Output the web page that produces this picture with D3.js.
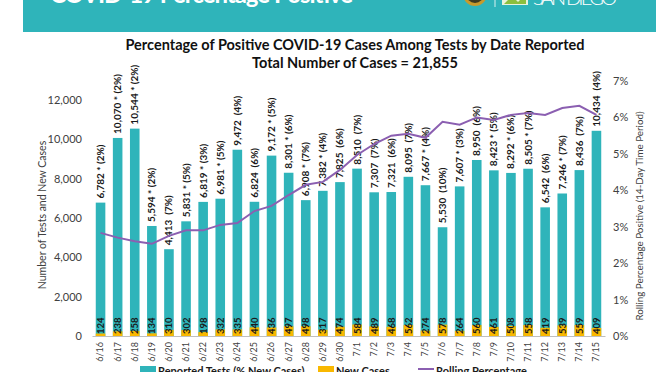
<!DOCTYPE html>
<html>
<head>
<meta charset="utf-8">
<script src="https://cdn.jsdelivr.net/npm/d3@7"></script>
<style>
	body { margin: 0; background: #fff; }
	svg { display: block; }
	text { font-family: Lato, "Open Sans", sans-serif; }
</style>
</head>
<body>
<svg id="chart" width="672" height="372"></svg>
<script>
// Data
const dates = ["6/16", "6/17", "6/18", "6/19", "6/20", "6/21", "6/22", "6/23", "6/24", "6/25",
	"6/26", "6/27", "6/28", "6/29", "6/30", "7/1", "7/2", "7/3", "7/4", "7/5",
	"7/6", "7/7", "7/8", "7/9", "7/10", "7/11", "7/12", "7/13", "7/14", "7/15"];
const reportedTests = [6782, 10070, 10544, 5594, 4413, 5831, 6819, 6981, 9472, 6824,
	9172, 8301, 6908, 7382, 7825, 8510, 7307, 7321, 8095, 7667,
	5530, 7607, 8950, 8423, 8292, 8505, 6542, 7246, 8436, 10434];
const newCases = [124, 238, 258, 134, 310, 302, 198, 332, 335, 440,
	436, 497, 498, 317, 474, 584, 489, 468, 562, 274,
	578, 264, 560, 461, 508, 558, 419, 539, 559, 409];
const pctNewCases = [2, 2, 2, 2, 7, 5, 3, 5, 4, 6,
	5, 6, 7, 4, 6, 7, 7, 6, 7, 4,
	10, 3, 6, 5, 6, 7, 6, 7, 7, 4];
const starred = [1, 1, 1, 1, 0, 1, 1, 1, 0, 0,
	1, 1, 1, 1, 0, 0, 0, 0, 0, 1,
	0, 1, 0, 1, 1, 1, 0, 1, 0, 0];
const rollingPct = [2.83, 2.7, 2.6, 2.53, 2.75, 2.9, 2.9, 3.05, 3.1, 3.43,
	3.57, 3.87, 4.15, 4.23, 4.56, 4.97, 5.27, 5.5, 5.55, 5.44,
	5.88, 5.8, 6.0, 5.93, 6.07, 6.12, 6.07, 6.26, 6.32, 6.07];
const leftTicks = [0, 2000, 4000, 6000, 8000, 10000, 12000];
const rightTicks = [0, 1, 2, 3, 4, 5, 6, 7];

const teal = "#2fb4ba";
const gold = "#f9b800";
const purple = "#8b5fb1";

const svg = d3.select("#chart");

// Banner (top of it is cut off in the original too)
let banner = svg.append("g").attr("class", "banner");
banner.append("rect").attr("x", 23).attr("y", 0).attr("width", 633).attr("height", 32).attr("fill", teal);
banner.append("text").attr("x", 50).attr("y", 3).attr("fill", "#fff").attr("font-weight", "bold")
	.attr("font-size", 24).attr("textLength", 303).attr("font-family", "'Open Sans', sans-serif")
	.text("COVID-19 Percentage Positive");
banner.append("circle").attr("cx", 475).attr("cy", -6).attr("r", 12).attr("fill", "#c79a2c");
banner.append("circle").attr("cx", 475).attr("cy", -6).attr("r", 9).attr("fill", "#3d3a20");
banner.append("line").attr("x1", 495).attr("x2", 495).attr("y1", 0).attr("y2", 7).attr("stroke", "#d8f0f0").attr("stroke-width", 1);
banner.append("rect").attr("x", 502).attr("y", -8).attr("width", 26).attr("height", 13).attr("fill", "#e9f3dc");
banner.append("path").attr("d", "M504,4 L512,-4 L518,2 L526,-6 L526,4 Z").attr("fill", "#8cbf3f");
banner.append("text").attr("x", 533).attr("y", 5).attr("fill", "#fff").attr("font-size", 20)
	.attr("textLength", 84).attr("font-weight", 300).text("SAN DIEGO");

// Titles
svg.append("text").attr("x", 355).attr("y", 50).attr("text-anchor", "middle")
	.attr("font-weight", "bold").attr("font-size", 14.5).attr("fill", "#111")
	.text("Percentage of Positive COVID-19 Cases Among Tests by Date Reported");
svg.append("text").attr("x", 355).attr("y", 68).attr("text-anchor", "middle")
	.attr("font-weight", "bold").attr("font-size", 14.5).attr("fill", "#111")
	.text("Total Number of Cases = 21,855");

// Scales
let xScale = d3.scaleBand().domain(dates).range([92, 605]).paddingInner(0.44).paddingOuter(0.22);
let yScale = d3.scaleLinear().domain([0, 12000]).range([336, 100]);
let rScale = d3.scaleLinear().domain([0, 7]).range([336, 81]);

// Bars
let chart = svg.append("g").attr("class", "chart");
chart.selectAll(".testBar").data(reportedTests).enter().append("rect")
	.attr("class", "testBar")
	.attr("x", function(d, i) { return xScale(dates[i]); })
	.attr("width", xScale.bandwidth())
	.attr("y", function(d) { return yScale(d); })
	.attr("height", function(d) { return yScale(0) - yScale(d); })
	.attr("fill", teal);

chart.selectAll(".caseBar").data(newCases).enter().append("rect")
	.attr("class", "caseBar")
	.attr("x", function(d, i) { return xScale(dates[i]); })
	.attr("width", xScale.bandwidth())
	.attr("y", function(d) { return yScale(d); })
	.attr("height", function(d) { return yScale(0) - yScale(d); })
	.attr("fill", gold);

// Bar value labels
const fmt = d3.format(",");
chart.selectAll(".testLabel").data(reportedTests).enter().append("text")
	.attr("class", "testLabel")
	.attr("transform", function(d, i) {
		let cx = xScale(dates[i]) + xScale.bandwidth() / 2;
		return "translate(" + (cx + 3.5) + "," + (yScale(d) - 4) + ") rotate(-90)";
	})
	.attr("font-size", 10).attr("font-weight", "bold").attr("fill", "#1a1a1a")
	.attr("xml:space", "preserve")
	.text(function(d, i) { return fmt(d) + (starred[i] ? " * " : "  ") + "(" + pctNewCases[i] + "%)"; });

chart.selectAll(".caseLabel").data(newCases).enter().append("text")
	.attr("class", "caseLabel")
	.attr("transform", function(d, i) {
		let cx = xScale(dates[i]) + xScale.bandwidth() / 2;
		return "translate(" + (cx + 3.5) + "," + 334 + ") rotate(-90)";
	})
	.attr("font-size", 9.5).attr("font-weight", "bold").attr("fill", "#1a1a1a")
	.text(function(d) { return d; });

// Rolling percentage line
let line = d3.line()
	.x(function(d, i) { return xScale(dates[i]) + xScale.bandwidth() / 2; })
	.y(function(d) { return rScale(d); });
chart.append("path").datum(rollingPct).attr("d", line)
	.attr("fill", "none").attr("stroke", purple).attr("stroke-width", 2);

// Axes
let xAxis = d3.axisBottom(xScale).tickSize(0).tickPadding(0);
let gx = svg.append("g").attr("transform", "translate(0,336)").call(xAxis);
gx.select(".domain").attr("stroke", "#bfbfbf").attr("stroke-width", 1);
gx.selectAll("text")
	.attr("transform", "rotate(-90)")
	.attr("x", -6).attr("y", 0).attr("dy", "0.32em")
	.attr("text-anchor", "end")
	.attr("font-size", 9).attr("fill", "#404040")
	.attr("font-family", "Lato, sans-serif");

let yAxis = d3.axisLeft(yScale).tickValues(leftTicks).tickSize(0).tickPadding(0).tickFormat(d3.format(","));
let gy = svg.append("g").attr("transform", "translate(82,0)").call(yAxis);
gy.select(".domain").remove();
gy.selectAll("text").attr("font-size", 11).attr("fill", "#404040").attr("font-family", "Lato, sans-serif");

let rAxis = d3.axisRight(rScale).tickValues(rightTicks).tickSize(0).tickPadding(0).tickFormat(function(d) { return d + "%"; });
let gr = svg.append("g").attr("transform", "translate(613,0)").call(rAxis);
gr.select(".domain").remove();
gr.selectAll("text").attr("font-size", 11).attr("fill", "#404040").attr("font-family", "Lato, sans-serif");

// Axis titles
svg.append("text").attr("transform", "translate(46,215) rotate(-90)").attr("text-anchor", "middle")
	.attr("font-size", 10.5).attr("fill", "#404040").text("Number of Tests and New Cases");
svg.append("text").attr("transform", "translate(643,216) rotate(-90)").attr("text-anchor", "middle")
	.attr("font-size", 9.8).attr("fill", "#404040").text("Rolling Percentage Positive (14-Day Time Period)");

// Legend
let legend = svg.append("g").attr("class", "legend");
let legendItems = [
	{ label: "Reported Tests (% New Cases)", color: teal, x: 140, type: "rect" },
	{ label: "New Cases", color: gold, x: 318, type: "rect" },
	{ label: "Rolling Percentage", color: purple, x: 418, type: "line" }
];
legendItems.forEach(function(item) {
	if (item.type === "rect") {
		legend.append("rect").attr("x", item.x).attr("y", 366).attr("width", 16).attr("height", 10).attr("fill", item.color);
	} else {
		legend.append("line").attr("x1", item.x).attr("x2", item.x + 16).attr("y1", 369).attr("y2", 369)
			.attr("stroke", item.color).attr("stroke-width", 2);
	}
	legend.append("text").attr("x", item.x + 18).attr("y", 375).attr("font-size", 11).attr("font-weight", "bold")
		.attr("fill", "#1a1a1a").text(item.label);
});
</script>
</body>
</html>
